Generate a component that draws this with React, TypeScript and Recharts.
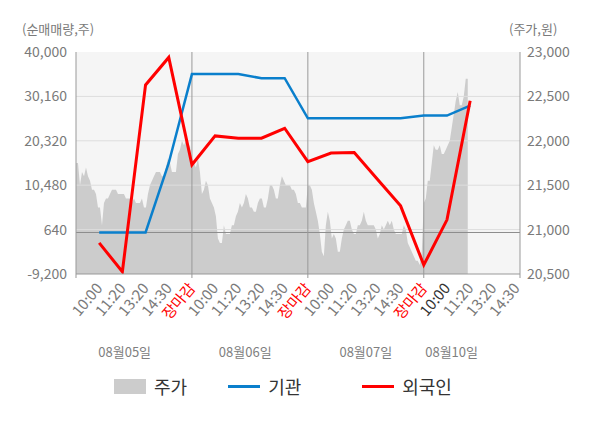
import React from 'react';
import {
  ComposedChart,
  Area,
  Line,
  XAxis,
  YAxis,
  CartesianGrid,
  ReferenceLine
} from 'recharts';

const FONT = "'Noto Sans CJK KR', 'Noto Sans', sans-serif";

const DAYS = ['08월05일', '08월06일', '08월07일', '08월10일'];
// where each day caption sits on the slot axis
const DATE_TICKS = [2.1, 7.3, 12.5, 16.2];

const TIME_LABELS = [
  '10:00', '11:20', '13:20', '14:30', '장마감',
  '10:00', '11:20', '13:20', '14:30', '장마감',
  '10:00', '11:20', '13:20', '14:30', '장마감',
  '10:00', '11:20', '13:20', '14:30'
];

// intraday price (원), evenly sampled over each session
const PRICE_0805 = [
  21750, 21750, 21500, 21650, 21600, 21700, 21600, 21550, 21450, 21450,
  21400, 21250, 21250, 21050, 21300, 21350, 21350, 21400, 21450, 21450,
  21450, 21400, 21400, 21400, 21400, 21350, 21350, 21350, 21300, 21350,
  21300, 21300, 21300, 21350, 21250, 21250, 21400, 21500, 21550, 21600,
  21650, 21650, 21650, 21600, 21600, 21700, 21800, 21750, 21650, 21650,
  21650, 21850, 21900, 22000, 21950, 22000, 21900, 21950
];
const PRICE_0806 = [
  21750, 21750, 21700, 21800, 21650, 21400, 21450, 21550, 21500, 21350,
  21300, 21250, 21150, 20900, 20850, 20850, 21050, 20950, 20950, 20950,
  21050, 21050, 21150, 21200, 21300, 21250, 21300, 21400, 21350, 21250,
  21250, 21200, 21200, 21300, 21350, 21350, 21250, 21250, 21350, 21500,
  21500, 21450, 21350, 21350, 21500, 21600, 21550, 21500, 21500, 21500,
  21450, 21450, 21400, 21300, 21300, 21250, 21250, 21250
];
const PRICE_0807 = [
  21500, 21500, 21450, 21300, 21200, 21100, 20950, 20750, 20700, 21050,
  21200, 21100, 20900, 20950, 20900, 20750, 20750, 20900, 21000, 21050,
  21100, 21100, 21000, 20950, 20950, 21050, 21050, 21100, 21200, 21100,
  21050, 21050, 21050, 21050, 21000, 20900, 20950, 21050, 21000, 21050,
  21100, 21050, 21100, 21000, 20950, 20950, 20950, 20950, 21050, 21000,
  20850, 20800, 20750, 20700, 20650, 20650, 20600, 20750
];
const PRICE_0810 = [
  21300, 21350, 21550, 21550, 21750, 21950, 21900, 21900, 21950, 21850,
  21850, 21900, 21950, 22000, 22150, 22300, 22450, 22550, 22400, 22400,
  22500, 22700, 22700
];
const SAMPLES_PER_DAY = 58;

// net buying (주) at 10:00, 11:20, 13:20, 14:30, close ... up to 08/10 11:20
const INSTITUTION = [
  0, 0, 0, 15400, 35100, 35100, 35100, 34200, 34200,
  25300, 25300, 25300, 25300, 25300, 25900, 25900, 28100
];
const FOREIGN = [
  -2300, -8700, 32700, 38800, 15000, 21400, 20900, 20900, 23100,
  15700, 17600, 17700, 11800, 5900, -7200, 2800, 29200
];

const LEFT_TICKS = [-9200, 640, 10480, 20320, 30160, 40000];
const RIGHT_TICKS = [20500, 21000, 21500, 22000, 22500, 23000];

const X_MAX = 19.15;
const DAY_BREAKS = [5, 10, 15];
const X_TICKS = [0, ...TIME_LABELS.map((_, i) => i + 1), X_MAX];

const buildData = () => {
  const rows = new Map<string, any>();
  const put = (x: number, key: string, v: number) => {
    const k = x.toFixed(5);
    const row = rows.get(k) ?? { x };
    row[key] = v;
    rows.set(k, row);
  };
  [PRICE_0805, PRICE_0806, PRICE_0807, PRICE_0810].forEach((day, d) => {
    day.forEach((p, i) => put(d * 5 + (i * 5) / SAMPLES_PER_DAY, 'price', p));
  });
  INSTITUTION.forEach((v, i) => put(i + 1, 'inst', v));
  FOREIGN.forEach((v, i) => put(i + 1, 'foreign', v));
  return [...rows.values()].sort((a, b) => a.x - b.x);
};

const data = buildData();

const TimeTick = (props: any) => {
  const { x, y, payload } = props;
  const v = payload.value;
  const isEdge = v === 0 || v === X_MAX || DAY_BREAKS.includes(v);
  const label = Number.isInteger(v) && v >= 1 ? TIME_LABELS[v - 1] : null;
  const color = label === '장마감' ? '#ff0000' : v === 16 ? '#333333' : '#7a7a7a';
  const tx = x + 1;
  const ty = y + 12;
  return (
    <g>
      {isEdge && <line x1={x} y1={y} x2={x} y2={y + 4} stroke="#999" />}
      {label && (
        <text
          x={tx}
          y={ty}
          transform={`rotate(-50 ${tx} ${ty})`}
          textAnchor="end"
          dominantBaseline="middle"
          fill={color}
          fontSize={15}
          fontFamily={FONT}
        >
          {label}
        </text>
      )}
    </g>
  );
};

const DateTick = (props: any) => {
  const { x, y, index } = props;
  return (
    <text x={x} y={y + 17} textAnchor="middle" dominantBaseline="middle" fill="#808080" fontSize={13} fontFamily={FONT}>
      {DAYS[index]}
    </text>
  );
};

const axisTitle = (text: string, dx: number) => (p: any) => {
  const vb = p.viewBox || { x: 0, y: 52 };
  return (
    <text x={vb.x + dx} y={vb.y - 22} dominantBaseline="middle" fill="#7a7a7a" fontSize={13} fontFamily={FONT}>
      {text}
    </text>
  );
};

const LegendItem = ({ kind, color, text, gap }: any) => (
  <div style={{ display: 'flex', alignItems: 'center', marginRight: gap }}>
    {kind === 'rect' ? (
      <div style={{ width: 32, height: 15, background: color }} />
    ) : (
      <div style={{ width: 32, height: 3, background: color }} />
    )}
    <span style={{ marginLeft: 8, fontSize: 18, color: '#333', lineHeight: '20px' }}>{text}</span>
  </div>
);

export default function App() {
  return (
    <div style={{ position: 'absolute', left: 0, top: 0, width: 600, height: 428, background: '#fff', fontFamily: FONT }}>
      <ComposedChart
        width={600}
        height={428}
        data={data}
        margin={{ top: 52, right: 0, bottom: 62, left: 0 }}
        style={{ fontFamily: FONT }}
      >
        <CartesianGrid yAxisId="left" xAxisId="time" horizontal={false} vertical={false} fill="#f5f5f5" />
        <XAxis
          xAxisId="time"
          dataKey="x"
          type="number"
          domain={[0, X_MAX]}
          ticks={X_TICKS}
          interval={0}
          height={62}
          tickLine={false}
          tickSize={0}
          tickMargin={0}
          axisLine={{ stroke: '#999' }}
          tick={<TimeTick />}
          allowDataOverflow
        />
        <XAxis
          xAxisId="zdate"
          dataKey="x"
          type="number"
          domain={[0, X_MAX]}
          ticks={DATE_TICKS}
          interval={0}
          height={30}
          tickLine={false}
          tickSize={0}
          tickMargin={0}
          axisLine={false}
          tick={<DateTick />}
          allowDataOverflow
        />
        <YAxis
          yAxisId="left"
          orientation="left"
          width={76}
          domain={[-9200, 40000]}
          ticks={LEFT_TICKS}
          interval={0}
          tickLine={false}
          tickSize={0}
          tickMargin={9}
          axisLine={{ stroke: '#999' }}
          tick={{ fill: '#7a7a7a', fontSize: 14, fontFamily: FONT }}
          tickFormatter={(v: number) => v.toLocaleString('en-US')}
          label={{ content: axisTitle('(순매매량,주)', 22) }}
          allowDataOverflow
        />
        <YAxis
          yAxisId="right"
          orientation="right"
          width={80}
          domain={[20500, 23000]}
          ticks={RIGHT_TICKS}
          interval={0}
          tickLine={false}
          tickSize={0}
          tickMargin={7}
          axisLine={{ stroke: '#999' }}
          tick={{ fill: '#7a7a7a', fontSize: 14, fontFamily: FONT }}
          tickFormatter={(v: number) => v.toLocaleString('en-US')}
          label={{ content: axisTitle('(주가,원)', -11) }}
          allowDataOverflow
        />
        <Area
          xAxisId="time"
          yAxisId="right"
          dataKey="price"
          type="linear"
          stroke="none"
          fill="#cccccc"
          fillOpacity={1}
          baseValue="dataMin"
          connectNulls
          isAnimationActive={false}
        />
        {LEFT_TICKS.slice(1, -1).map(v => (
          <ReferenceLine key={v} xAxisId="time" yAxisId="left" y={v} stroke="#dddddd" />
        ))}
        <ReferenceLine xAxisId="time" yAxisId="left" y={0} stroke="#8c8c8c" />
        {DAY_BREAKS.map(v => (
          <ReferenceLine key={v} xAxisId="time" yAxisId="left" x={v} stroke="#999" />
        ))}
        <Line
          xAxisId="time"
          yAxisId="left"
          dataKey="inst"
          type="linear"
          stroke="#0a7fcc"
          strokeWidth={2.5}
          dot={false}
          connectNulls
          isAnimationActive={false}
        />
        <Line
          xAxisId="time"
          yAxisId="left"
          dataKey="foreign"
          type="linear"
          stroke="#ff0000"
          strokeWidth={3}
          dot={false}
          connectNulls
          isAnimationActive={false}
        />
      </ComposedChart>
      <div style={{ position: 'absolute', left: 114, top: 376, display: 'flex', alignItems: 'center' }}>
        <LegendItem kind="rect" color="#cccccc" text="주가" gap={41} />
        <LegendItem kind="line" color="#0a7fcc" text="기관" gap={61} />
        <LegendItem kind="line" color="#ff0000" text="외국인" gap={0} />
      </div>
    </div>
  );
}
